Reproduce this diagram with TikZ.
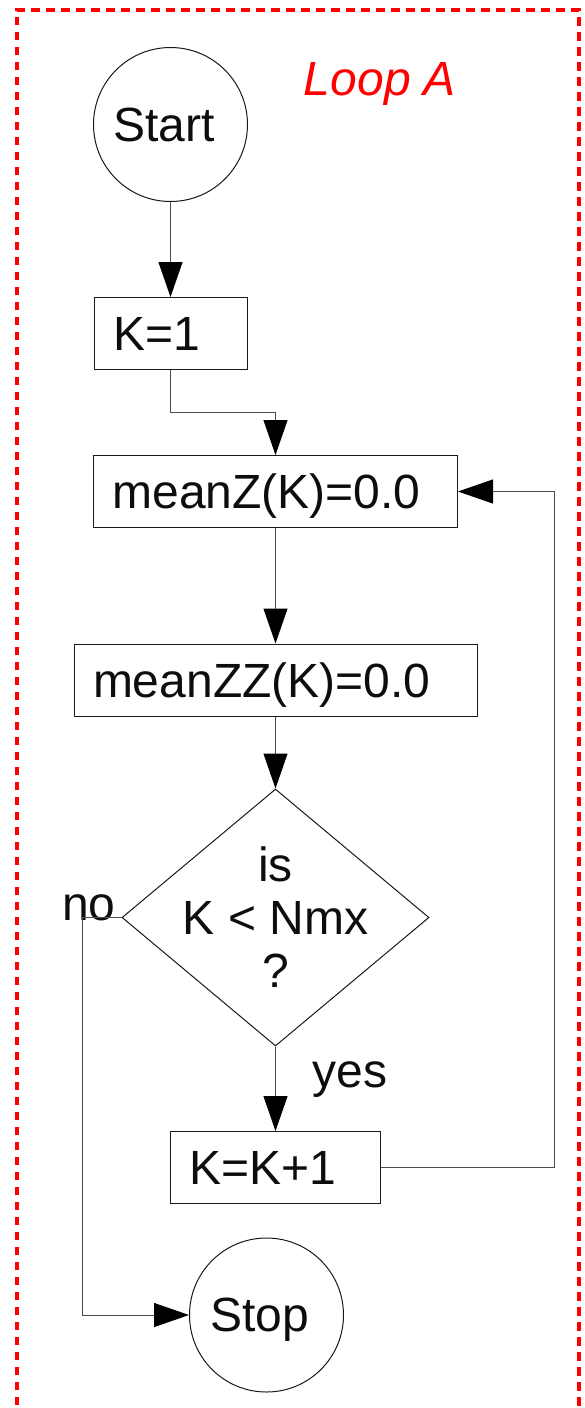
\documentclass[tikz,border=0pt]{standalone}
\usepackage{fontspec}
\setmainfont{Liberation Sans}
\usetikzlibrary{arrows.meta, shapes.geometric}

\begin{document}
\begin{tikzpicture}[x=1pt, y=-1pt,
  every node/.style={font=\fontsize{48}{53}\selectfont, text=black!95},
  terminal/.style={draw=black!90, line width=1pt, circle, minimum size=154pt, inner sep=0pt, text depth=0pt},
  box/.style={draw=black!90, line width=1pt, minimum height=72pt, inner xsep=19pt, inner ysep=0pt, text depth=0pt, align=left},
  test/.style={draw=black!90, line width=1pt, diamond, minimum width=307pt, minimum height=257pt, inner sep=0pt},
  flow/.style={draw=black!70, line width=1pt, -{Triangle[length=35pt, width=24pt, color=black]}}]

  % Frame
  \useasboundingbox (0,0) rectangle (584,1408);
  \clip (0,0) rectangle (584,1408);
  \draw[red, line width=3.6pt, dash pattern=on 8.5pt off 6.5pt] (16.7,1420) -- (16.7,9.7) -- (579,9.7) -- (579,1420);
  \node[text=red, font=\fontsize{48}{53}\selectfont\itshape, anchor=base] (title) at (380,95) {Loop A};

  % Blocks
  \node[terminal] (start) at (170.5,124.5) {\kern-13pt Start};
  \node[box, text width=115pt] (kone) at (170.5,333.5) {K=1};
  \node[box, text width=326pt] (meanz) at (275.5,491.5) {meanZ(K)=0.0};
  \node[box, text width=365pt] (meanzz) at (275.5,680) {meanZZ(K)=0.0};
  \node[test] (test) at (275.5,917.5) {};
  \node[align=center] (testtext) at (275.5,917) {is\\K < Nmx\\?};
  \node[box, text width=172pt] (kinc) at (275.5,1167.5) {K=K+1};
  \node[terminal] (stop) at (266.5,1315) {\kern-14pt Stop};

  % Labels
  \node[anchor=base] (no) at (89,920) {no};
  \node[anchor=base] (yes) at (350,1087) {yes};

  % Connectors
  \draw[flow] (start.south) -- (kone.north);
  \draw[flow] (kone.south) -- ++(0,42) -| (meanz.north);
  \draw[flow] (meanz.south) -- (meanzz.north);
  \draw[flow] (meanzz.south) -- (test.north);
  \draw[flow] (test.south) -- (kinc.north);
  \draw[flow] (test.west) -- ++(-39,0) |- (stop.west);
  \draw[flow] (kinc.east) -| ([xshift=96.5pt]meanz.east) -- (meanz.east);

\end{tikzpicture}
\end{document}
